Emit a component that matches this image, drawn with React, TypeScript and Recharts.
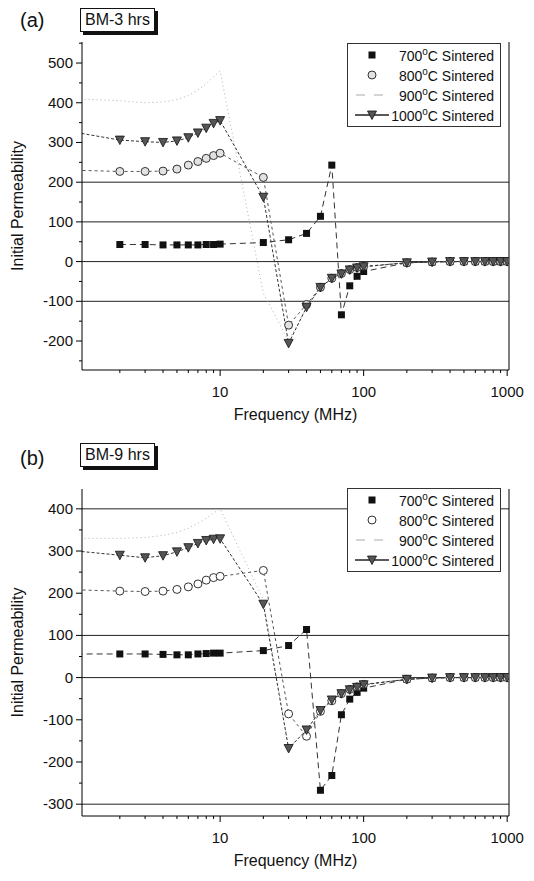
import React from "react";
import { LineChart, Line, XAxis, YAxis, ReferenceLine, Legend } from "recharts";

const FONT = '"Liberation Sans", Arial, Helvetica, sans-serif';

// frequency points (MHz)
const freqs = [1, 2, 3, 4, 5, 6, 7, 8, 9, 10, 20, 30, 40, 50, 60, 70, 80, 90, 100, 200, 300, 400, 500, 600, 700, 800, 900, 1000];

// (a) BM-3 hrs
const a700 = [null, 43, 43, 42, 42, 42, 42, 43, 43, 44, 48, 55, 71, 114, 243, -134, -61, -37, -25, -3, -1, 0, 0, 0, 0, 0, 0, 0];
const a800 = [230, 227, 227, 228, 233, 243, 252, 260, 267, 273, 212, -160, -108, -65, -42, -30, -20, -15, -12, -3, -1, 0, 0, 0, 0, 0, 0, 0];
const a900 = [410, 405, 400, 402, 408, 418, 432, 448, 465, 480, -80, -200, -115, -67, -43, -31, -22, -16, -13, -3, -1, 0, 0, 0, 0, 0, 0, 0];
const a1000 = [325, 306, 302, 300, 304, 312, 324, 336, 348, 355, 162, -206, -115, -65, -42, -31, -21, -16, -13, -3, -1, 0, 0, 0, 0, 0, 0, 0];

// (b) BM-9 hrs
const b700 = [56, 56, 56, 55, 54, 54, 56, 57, 58, 58, 64, 76, 114, -267, -232, -88, -51, -35, -25, -4, -1, 0, 0, 0, 0, 0, 0, 0];
const b800 = [208, 205, 204, 205, 209, 215, 222, 231, 237, 240, 254, -86, -139, -80, -55, -38, -28, -22, -16, -4, -1, 0, 0, 0, 0, 0, 0, 0];
const b900 = [330, 330, 332, 337, 344, 354, 366, 378, 390, 400, 185, -168, -124, -78, -53, -38, -29, -23, -17, -4, -1, 0, 0, 0, 0, 0, 0, 0];
const b1000 = [300, 290, 284, 289, 298, 308, 318, 325, 328, 329, 174, -168, -124, -78, -53, -38, -29, -23, -17, -4, -1, 0, 0, 0, 0, 0, 0, 0];

const xMajor = [10, 100, 1000];
const xMinor = [2, 3, 4, 5, 6, 7, 8, 9, 20, 30, 40, 50, 60, 70, 80, 90, 200, 300, 400, 500, 600, 700, 800, 900];
const xDomain = [1.09, 1030];

const yMajorA = [-200, -100, 0, 100, 200, 300, 400, 500];
const yMinorA = [-250, -150, -50, 50, 150, 250, 350, 450, 550];
const gridA = [200, 100, 0, -100];

const yMajorB = [-300, -200, -100, 0, 100, 200, 300, 400];
const yMinorB = [-250, -150, -50, 50, 150, 250, 350];
const gridB = [400, 100, 0, -300];

const temps = ["700", "800", "900", "1000"];

const build = (s700: any[], s800: any[], s900: any[], s1000: any[]) =>
  freqs.map((f, i) => ({ f, s700: s700[i], s800: s800[i], s900: s900[i], s1000: s1000[i] }));

const dataA = build(a700, a800, a900, a1000);
const dataB = build(b700, b800, b900, b1000);

// markers
const Square = (p: any) => {
  if (p.cx == null || p.cy == null || p.payload.f < 1.5) return <g key={p.key} />;
  return <rect key={p.key} x={p.cx - 3.5} y={p.cy - 3.5} width={7} height={7} fill="#111" />;
};
const makeCircle = (fill: string) => (p: any) => {
  if (p.cx == null || p.cy == null || p.payload.f < 1.5) return <g key={p.key} />;
  return <circle key={p.key} cx={p.cx} cy={p.cy} r={4} fill={fill} stroke="#333" strokeWidth={1} />;
};
const Tri = (p: any) => {
  if (p.cx == null || p.cy == null || p.payload.f < 1.5) return <g key={p.key} />;
  const { cx, cy } = p;
  return (
    <path
      key={p.key}
      d={`M${cx - 4.5},${cy - 4} L${cx + 4.5},${cy - 4} L${cx},${cy + 4.5} Z`}
      fill="#555"
      stroke="#111"
      strokeWidth={0.8}
    />
  );
};

const XTick = (p: any) => {
  const v = p.payload.value;
  const major = xMajor.includes(v);
  return (
    <g>
      <line x1={p.x} x2={p.x} y1={p.y} y2={p.y + (major ? 6 : 3)} stroke="#000" />
      {major && (
        <text x={p.x} y={p.y + 27} textAnchor="middle" fontSize={15} fontFamily={FONT} fill="#111">
          {v}
        </text>
      )}
    </g>
  );
};

const YTick = (p: any) => {
  const v = p.payload.value;
  const major = v % 100 === 0;
  return (
    <g>
      <line x1={p.x} x2={p.x - (major ? 6 : 3)} y1={p.y} y2={p.y} stroke="#000" />
      {major && (
        <text x={p.x - 9} y={p.y + 5} textAnchor="end" fontSize={15} fontFamily={FONT} fill="#111">
          {v}
        </text>
      )}
    </g>
  );
};

const XTitle = (p: any) => {
  const vb = p.viewBox || { x: 82, y: 370, width: 427 };
  return (
    <text x={vb.x + vb.width / 2} y={vb.y + 50} textAnchor="middle" fontSize={16} fontFamily={FONT} fill="#111">
      Frequency (MHz)
    </text>
  );
};

const YTitle = (p: any) => {
  const vb = p.viewBox || { x: 32, y: 42, height: 328 };
  const cx = vb.x - 15;
  const cy = vb.y + vb.height / 2;
  return (
    <text
      x={cx}
      y={cy}
      transform={`rotate(-90 ${cx} ${cy})`}
      textAnchor="middle"
      dominantBaseline="central"
      fontSize={16}
      fontFamily={FONT}
      fill="#111"
    >
      Initial Permeability
    </text>
  );
};

const LegendSym = ({ i, circleFill }: { i: number; circleFill: string }) => (
  <svg width={40} height={20}>
    {i === 0 && <rect x={16.5} y={6.5} width={7} height={7} fill="#111" />}
    {i === 1 && <circle cx={20} cy={10} r={4} fill={circleFill} stroke="#333" />}
    {i === 2 && <line x1={4} x2={36} y1={10} y2={10} stroke="#aaa" strokeDasharray="9 9" />}
    {i === 3 && (
      <g>
        <line x1={3} x2={37} y1={10} y2={10} stroke="#222" strokeWidth={1.3} />
        <path d="M15.5,6 L24.5,6 L20,14.5 Z" fill="#555" stroke="#111" strokeWidth={0.8} />
      </g>
    )}
  </svg>
);

const LegendBox = ({ circleFill }: { circleFill: string }) => (
  <div
    style={{
      border: "1px solid #333",
      background: "#fff",
      padding: "1px 6px 1px 4px",
      fontFamily: FONT,
      fontSize: 14,
      color: "#111",
      width: 142,
    }}
  >
    {temps.map((t, i) => (
      <div key={t} style={{ display: "flex", alignItems: "center", height: 20 }}>
        <LegendSym i={i} circleFill={circleFill} />
        <div style={{ flex: 1, textAlign: "right", whiteSpace: "nowrap" }}>
          {t}
          <sup style={{ fontSize: 10 }}>o</sup>C Sintered
        </div>
      </div>
    ))}
  </div>
);

interface PanelProps {
  data: any[];
  top: number;
  height: number;
  marginTop: number;
  marginBottom: number;
  yDomain: number[];
  yTicks: number[];
  grid: number[];
  tag: string;
  title: string;
  tagY: number;
  boxTop: number;
  legendTop: number;
  circleFill: string;
}

function Panel(p: PanelProps) {
  return (
    <div style={{ position: "absolute", left: 0, top: p.top, width: 534, height: p.height }}>
      <div
        style={{
          position: "absolute",
          left: 20,
          top: p.tagY - 12,
          fontFamily: FONT,
          fontSize: 20,
          color: "#111",
          zIndex: 2,
        }}
      >
        {p.tag}
      </div>
      <div
        style={{
          position: "absolute",
          left: 80,
          top: p.boxTop,
          padding: "2px 4px",
          border: "1px solid #111",
          boxShadow: "3px 3px 0 #111",
          background: "#fff",
          fontFamily: FONT,
          fontSize: 16,
          color: "#111",
          zIndex: 2,
        }}
      >
        {p.title}
      </div>
      <LineChart
        width={534}
        height={p.height}
        data={p.data}
        margin={{ top: p.marginTop, right: 25, bottom: p.marginBottom, left: 32 }}
      >
        <XAxis
          dataKey="f"
          type="number"
          scale="log"
          domain={xDomain}
          allowDataOverflow
          ticks={[...xMinor, ...xMajor].sort((m, n) => m - n)}
          interval={0}
          tickLine={false}
          tickSize={0}
          tickMargin={0}
          tick={(t: any) => <XTick {...t} />}
          axisLine={{ stroke: "#000" }}
          height={60}
          label={<XTitle />}
        />
        <YAxis
          type="number"
          domain={p.yDomain}
          allowDataOverflow
          ticks={p.yTicks}
          interval={0}
          tickLine={false}
          tickSize={0}
          tickMargin={0}
          tick={(t: any) => <YTick {...t} />}
          axisLine={{ stroke: "#000" }}
          width={50}
          label={<YTitle />}
        />
        {p.grid.map((g) => (
          <ReferenceLine key={g} y={g} stroke="#222" strokeWidth={1} />
        ))}
        <ReferenceLine x={xDomain[1]} stroke="#000" strokeWidth={1} />
        <Line
          dataKey="s900"
          stroke="#b0b0b0"
          strokeWidth={1}
          strokeDasharray="1 3"
          dot={false}
          activeDot={false}
          isAnimationActive={false}
        />
        <Line
          dataKey="s700"
          stroke="#333"
          strokeWidth={1}
          strokeDasharray="6 4"
          dot={Square}
          activeDot={false}
          isAnimationActive={false}
        />
        <Line
          dataKey="s800"
          stroke="#555"
          strokeWidth={1}
          strokeDasharray="3 3"
          dot={makeCircle(p.circleFill)}
          activeDot={false}
          isAnimationActive={false}
        />
        <Line
          dataKey="s1000"
          stroke="#333"
          strokeWidth={1}
          strokeDasharray="3 2"
          dot={Tri}
          activeDot={false}
          isAnimationActive={false}
        />
        <Legend
          layout="vertical"
          align="center"
          verticalAlign="middle"
          content={<LegendBox circleFill={p.circleFill} />}
          wrapperStyle={{ left: 347, top: p.legendTop, width: 154, height: "auto" }}
        />
      </LineChart>
    </div>
  );
}

export default function App() {
  return (
    <div style={{ position: "absolute", left: 0, top: 0, width: 534, height: 881, background: "#fff" }}>
      <Panel
        data={dataA}
        top={0}
        height={430}
        marginTop={42}
        marginBottom={0}
        yDomain={[-273, 553]}
        yTicks={[...yMinorA, ...yMajorA].sort((m, n) => m - n)}
        grid={gridA}
        tag="(a)"
        title="BM-3 hrs"
        tagY={21}
        boxTop={8}
        legendTop={43}
        circleFill="#e2e2e2"
      />
      <Panel
        data={dataB}
        top={440}
        height={441}
        marginTop={49}
        marginBottom={5}
        yDomain={[-328, 447]}
        yTicks={[...yMinorB, ...yMajorB].sort((m, n) => m - n)}
        grid={gridB}
        tag="(b)"
        title="BM-9 hrs"
        tagY={19}
        boxTop={3}
        legendTop={48}
        circleFill="#fff"
      />
    </div>
  );
}
